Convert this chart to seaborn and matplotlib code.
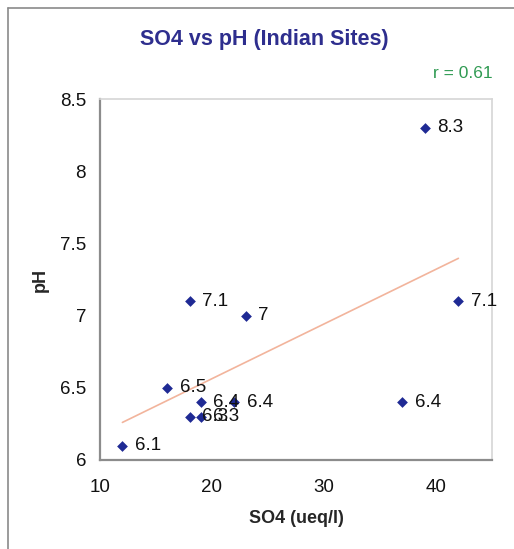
import matplotlib
matplotlib.use("Agg")
import matplotlib.pyplot as plt
import seaborn as sns
import pandas as pd
from matplotlib.lines import Line2D

# data
so4 = [12, 16, 18, 23, 19, 22, 18, 19, 37, 39, 42]
ph = [6.1, 6.5, 7.1, 7.0, 6.4, 6.4, 6.3, 6.3, 6.4, 8.3, 7.1]
point_labels = ["6.1", "6.5", "7.1", "7", "6.4", "6.4", "6.3", "6.3", "6.4", "8.3", "7.1"]
x_ticks = [10, 20, 30, 40]
y_ticks = [6, 6.5, 7, 7.5, 8, 8.5]
y_tick_labels = ["6", "6.5", "7", "7.5", "8", "8.5"]
r_text = "r = 0.61"

df = pd.DataFrame({"SO4": so4, "pH": ph, "label": point_labels})

sns.set_style("white")
plt.rcParams["font.family"] = ["Liberation Sans", "DejaVu Sans"]

fig = plt.figure(figsize=(5.14, 5.49), dpi=100)
ax = fig.add_axes([100 / 514, 1 - 460 / 549, 392 / 514, 361 / 549])

# trend line first so the markers sit on top
sns.regplot(data=df, x="SO4", y="pH", scatter=False, ci=None, truncate=True,
            line_kws={"color": "#f2b49c", "linewidth": 1.2}, ax=ax)
sns.scatterplot(data=df, x="SO4", y="pH", marker="D", s=30, color="#1f2a94",
                edgecolor="#1f2a94", linewidth=0, ax=ax, zorder=3)

for _, row in df.iterrows():
    ax.annotate(row["label"], (row["SO4"], row["pH"]), xytext=(9, 0),
                textcoords="offset points", va="center", ha="left",
                fontsize=13.5, color="#111111", annotation_clip=False)

ax.set_xlim(10, 45)
ax.set_ylim(6, 8.5)
ax.set_xticks(x_ticks)
ax.set_yticks(y_ticks)
ax.set_yticklabels(y_tick_labels)
ax.tick_params(axis="both", labelsize=13.5, colors="#888888", labelcolor="#111111",
               direction="out", length=5, width=1, pad=5)
ax.tick_params(axis="x", pad=9)

for side in ["left", "bottom"]:
    ax.spines[side].set_color("#8c8c8c")
    ax.spines[side].set_linewidth(1.6)
for side in ["top", "right"]:
    ax.spines[side].set_visible(True)
    ax.spines[side].set_color("#d6d6d6")
    ax.spines[side].set_linewidth(1.2)

ax.set_xlabel("SO4 (ueq/l)", fontsize=13, fontweight="bold", labelpad=10)
ax.set_ylabel("pH", fontsize=13, fontweight="bold", labelpad=8)

fig.text(264 / 514, 1 - 40 / 549, "SO4 vs pH (Indian Sites)", ha="center", va="center",
         fontsize=15.5, fontweight="bold", color="#2e2e8e")
fig.text(493 / 514, 1 - 73 / 549, r_text, ha="right", va="center",
         fontsize=12.5, color="#2f9a52")

# outer frame, only top and left edges show in the picture
fig.add_artist(Line2D([8 / 514, 1], [1 - 8 / 549, 1 - 8 / 549], color="#8a8a8a",
                      linewidth=1.2, transform=fig.transFigure))
fig.add_artist(Line2D([8 / 514, 8 / 514], [0, 1 - 8 / 549], color="#8a8a8a",
                      linewidth=1.2, transform=fig.transFigure))

fig.savefig("out.png", dpi=100)
